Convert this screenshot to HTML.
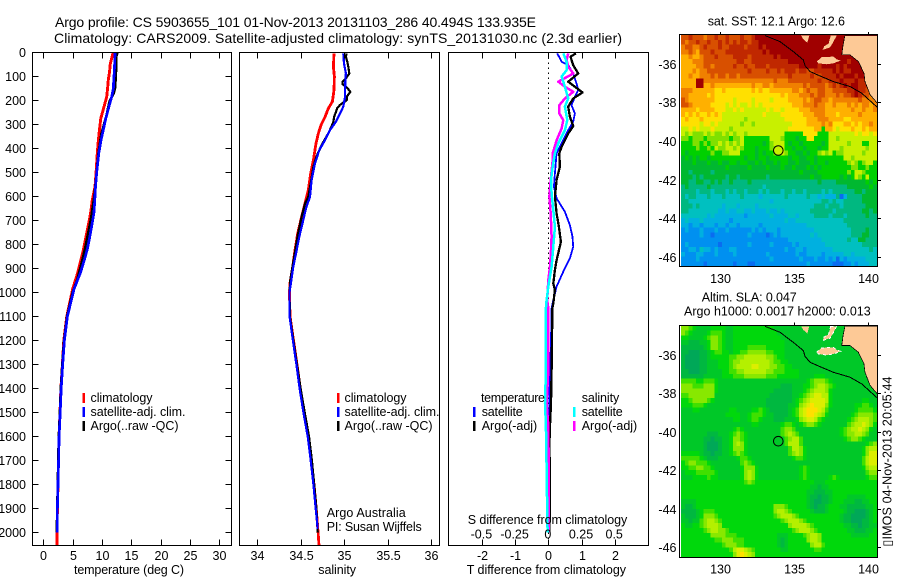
<!DOCTYPE html>
<html><head><meta charset="utf-8"><title>Argo profile</title>
<style>
html,body{margin:0;padding:0;background:#fff;width:900px;height:580px;overflow:hidden}
svg{display:block}
text{font-family:"Liberation Sans","DejaVu Sans",sans-serif;font-size:12.5px;fill:#000}
</style></head>
<body>
<svg id="chart" width="900" height="580" viewBox="0 0 900 580" xmlns="http://www.w3.org/2000/svg">
<rect width="900" height="580" fill="#fff"/>
<text x="55" y="27" style="font-size:14px" textLength="481" lengthAdjust="spacing">Argo profile: CS 5903655_101 01-Nov-2013 20131103_286 40.494S 133.935E</text>
<text x="54" y="43" style="font-size:14px" textLength="568" lengthAdjust="spacing">Climatology: CARS2009. Satellite-adjusted climatology: synTS_20131030.nc (2.3d earlier)</text>

<g id="panelT"></g>
<g id="panelS"></g>
<g id="panelD"></g>
<g id="mapA"></g>
<g id="mapB"></g>

<g>
<rect x="82.5" y="393" width="2.5" height="10" fill="#f00"/>
<rect x="82.5" y="407" width="2.5" height="10" fill="#00f"/>
<rect x="82.5" y="421" width="2.5" height="10" fill="#000"/>
<text x="90.5" y="402" textLength="62" lengthAdjust="spacing">climatology</text>
<text x="90.5" y="416" textLength="95" lengthAdjust="spacing">satellite-adj. clim.</text>
<text x="90.5" y="430" textLength="88" lengthAdjust="spacing">Argo(..raw -QC)</text>
</g>
<g>
<rect x="337" y="393" width="2.5" height="10" fill="#f00"/>
<rect x="337" y="407" width="2.5" height="10" fill="#00f"/>
<rect x="337" y="421" width="2.5" height="10" fill="#000"/>
<text x="344.5" y="402" textLength="62" lengthAdjust="spacing">climatology</text>
<text x="344.5" y="416" textLength="95" lengthAdjust="spacing">satellite-adj. clim.</text>
<text x="344.5" y="430" textLength="88" lengthAdjust="spacing">Argo(..raw -QC)</text>
<text x="326.7" y="517" textLength="79" lengthAdjust="spacing">Argo Australia</text>
<text x="326.7" y="531" textLength="95" lengthAdjust="spacing">PI: Susan Wijffels</text>
</g>
<g>
<text x="481" y="402" textLength="64" lengthAdjust="spacing">temperature</text>
<text x="581.7" y="402" textLength="37.5" lengthAdjust="spacing">salinity</text>
<rect x="473" y="407" width="2.5" height="10" fill="#00f"/>
<rect x="473" y="421" width="2.5" height="10" fill="#000"/>
<rect x="573" y="407" width="2.5" height="10" fill="#0ff"/>
<rect x="573" y="421" width="2.5" height="10" fill="#f0f"/>
<text x="481.7" y="416" textLength="41" lengthAdjust="spacing">satellite</text>
<text x="481.7" y="430" textLength="55.5" lengthAdjust="spacing">Argo(-adj)</text>
<text x="581.7" y="416" textLength="41" lengthAdjust="spacing">satellite</text>
<text x="581.7" y="430" textLength="55.5" lengthAdjust="spacing">Argo(-adj)</text>
<text x="467.7" y="524" textLength="159.6" lengthAdjust="spacing">S difference from climatology</text>
</g>

<text x="74" y="574" textLength="110" lengthAdjust="spacing">temperature (deg C)</text>
<text x="318.3" y="574" textLength="37.7" lengthAdjust="spacing">salinity</text>
<text x="466.7" y="574" textLength="159.3" lengthAdjust="spacing">T difference from climatology</text>

<text x="707.7" y="25.5" textLength="137.3" lengthAdjust="spacing">sat. SST: 12.1 Argo: 12.6</text>
<text x="701.7" y="301.5" textLength="95" lengthAdjust="spacing">Altim. SLA: 0.047</text>
<text x="684" y="315.5" textLength="186.7" lengthAdjust="spacing">Argo h1000: 0.0017 h2000: 0.013</text>
<text x="891.5" y="546.5" transform="rotate(-90 891.5 546.5)" textLength="170" lengthAdjust="spacing">▯IMOS 04-Nov-2013 20:05:44</text>
</svg>
<script>
// ---------- profile data ----------
const tempTicks=[0,5,10,15,20,25,30];
const salTicks=[34,34.5,35,35.5,36];
const salTickLabels=['34','34.5','35','35.5','36'];
const diffTicks=[-2,-1,0,1,2];
const sDiffTickLabels=['-0.5','-0.25','0','0.25','0.5'];
const depthTicks=[0,100,200,300,400,500,600,700,800,900,1000,1100,1200,1300,1400,1500,1600,1700,1800,1900,2000];

const climDepths=[0,20,50,80,115,150,185,225,275,325,365,420,500,560,615,670,710,770,820,860,920,985,1100,1200,1300,1400,1500,1600,1700,1800,1900,2000,2054];
const tempClim=[11.9,11.7,11.4,11.3,11.08,10.95,10.8,10.35,9.8,9.55,9.38,9.2,9.0,8.8,8.35,8.05,7.75,7.25,6.85,6.45,5.85,5.0,4.0,3.5,3.25,3.0,2.85,2.68,2.58,2.5,2.4,2.33,2.3];
const tempSat=[12.2,12.2,12.15,12.1,12.0,11.95,11.65,11.2,10.65,10.2,9.85,9.45,9.1,8.9,8.78,8.62,8.35,7.9,7.5,7.05,6.3,5.25,4.1,3.6,3.3,3.05,2.88,2.7,2.6,2.5,2.4,2.35];
const argoTempDepths=[0,4,18,50,100,150,170,205,260,340,420,500,600,700,760,820,880,950,1000,1100,1200,1300,1400,1500,1600,1700,1800,1900,2000];
const tempArgo=[12.6,12.6,12.4,12.4,12.35,12.2,12.0,11.3,10.8,9.9,9.4,9.1,8.7,8.1,7.6,7.1,6.5,5.75,5.0,4.05,3.55,3.25,3.0,2.85,2.65,2.55,2.48,2.38,2.32];

const salClimDepths=[4,60,101,157,205,233,268,303,337,379,449,504,574,629,685,754,824,893,962,1000,1100,1200,1300,1400,1500,1600,1700,1800,1900,2000,2054];
const salClim=[34.883,34.876,34.887,34.883,34.864,34.818,34.78,34.733,34.703,34.676,34.645,34.615,34.587,34.549,34.51,34.465,34.434,34.407,34.376,34.37,34.376,34.417,34.457,34.495,34.54,34.59,34.622,34.652,34.678,34.70,34.71];
const salSatDepths=[4,46,88,115,150,185,226,261,289,324,365,407,463,532,601,650,712,768,838,893,962,1000,1100,1200,1300,1400,1500,1600,1700,1800,1900,1985];
const salSat=[34.99,34.998,35.02,35.014,35.01,35.01,34.99,34.944,34.905,34.836,34.78,34.713,34.663,34.625,34.606,34.56,34.52,34.483,34.445,34.414,34.387,34.37,34.372,34.41,34.45,34.487,34.53,34.58,34.615,34.645,34.672,34.695];
const salArgoDepths=[4,18,39,60,88,104,122,132,146,164,185,199,219,233,268,289,307,337,386,435,476,546,601,629,685,754,838,893,949,1000,1100,1200,1300,1400,1500,1600,1700,1800,1900,2000];
const salArgo=[35.028,35.02,35.036,35.047,35.059,35.028,34.98,34.98,35.03,35.07,35.03,35.03,34.95,34.92,34.885,34.875,34.856,34.817,34.74,34.68,34.645,34.615,34.587,34.55,34.51,34.47,34.43,34.405,34.38,34.37,34.375,34.415,34.457,34.498,34.545,34.595,34.628,34.655,34.68,34.695];

const dTSatDepths=[4,39,53,88,129,157,185,220,254,289,324,379,421,504,560,608,664,720,768,810,858,914,976,1032,1067,1200,1400,1600,1800,2000];
const dTSat=[.27,.40,.60,.75,.85,.90,.80,.70,.80,.75,.60,.40,.25,.20,.17,.25,.50,.65,.73,.75,.65,.45,.25,.15,.10,.08,.04,.02,.01,0];
const dTArgoDepths=[4,18,53,88,122,143,167,192,226,268,307,338,393,421,476,532,601,671,727,789,866,907,963,990,1046,1067,1200,1324,1462,1553,1650,1733,1830,1906,2000];
const dTArgo=[.83,.67,.75,.90,.60,.80,1.03,.75,.60,.65,.75,.60,.40,.33,.35,.25,.20,.25,.32,.38,.25,.20,.15,.20,.15,.12,.11,.10,.08,.05,.03,.05,.05,.05,.03];
const dSArgoDepths=[4,32,60,88,122,143,164,192,220,254,282,317,365,421,449,532,601,671,768,824,893,949,1032,1067,1324,1462,1553,1733,1900,2000];
const dSArgo=[.15,.138,.15,.188,.075,.125,.188,.125,.083,.083,.113,.10,.063,.033,.033,.018,.008,.018,.025,.02,.013,0,-.008,0,0,-.013,0,.003,.003,.003];
const dSSatDepths=[4,39,74,101,143,192,226,282,324,379,421,476,532,588,657,727,810,893,976,1032,1067,1324,1462,1553,1733,1906,2000];
const dSSat=[.113,.138,.138,.10,.125,.15,.125,.143,.125,.075,.05,.033,.02,.025,.038,.05,.038,.025,0,-.013,-.018,-.018,-.025,-.018,-.013,-.008,-.005];

// ---------- map data ----------
const lonTicks=[130,135,140];
const latTicks=[-36,-38,-40,-42,-44,-46];
const floatLon=[133.935];
const floatLat=[-40.494];
const sstColors=['#0a6cf0','#0090f0','#00b0e0','#00c0c0','#00b880','#00b830','#00d000','#80e000','#c8f000','#ffe000','#ffb000','#f08000','#d85000','#c02800','#a00000'];
const slaColors=['#00a858','#00b840','#00c828','#00d80c','#40e000','#88e800','#b4f000','#dcee00','#ffe000'];
const sstLevels=[
[12,12,13,12,12,12,11,12,12,13,12,12,13,12,12,12,13,12,12,13,14,14,14,14,14,14,14,14,14,14,14,14,14,14,14,14,14,14,14,14,14,14,14,14,14,14,14,14,14,14,14,14,14],
[12,11,12,12,13,12,12,13,12,12,13,12,13,12,13,12,13,13,12,13,13,14,14,14,14,14,14,14,14,14,14,14,14,14,14,14,14,14,14,14,14,14,14,14,14,14,14,14,14,14,14,14,14],
[11,12,12,11,11,12,13,12,12,12,13,12,12,13,13,13,13,12,13,13,13,14,13,14,14,14,14,14,14,14,14,14,14,14,14,14,14,14,14,14,14,14,14,14,14,14,14,14,14,14,14,14,14],
[11,11,12,11,10,12,12,12,13,12,12,12,13,13,13,13,13,13,13,13,13,13,14,13,14,14,14,14,14,14,14,14,14,14,14,14,14,14,14,14,14,14,14,14,14,14,14,14,14,14,14,14,14],
[10,10,11,10,10,11,12,12,12,13,12,12,12,12,13,13,13,13,12,13,13,13,13,13,13,14,13,14,14,14,14,14,14,14,14,14,14,14,14,14,14,14,14,14,14,14,14,14,14,14,14,14,14],
[10,10,10,11,11,11,12,12,12,12,12,12,12,12,12,13,13,12,12,13,13,13,13,13,13,13,13,13,13,14,14,14,14,14,14,14,14,14,13,14,14,14,14,14,14,13,14,14,14,14,14,14,14],
[10,10,10,10,11,11,12,12,11,12,12,12,12,12,13,12,12,13,12,12,13,13,13,12,13,13,13,13,13,13,13,13,14,14,14,14,14,13,14,14,14,14,13,14,13,14,14,14,14,14,14,14,14],
[10,10,10,11,10,11,11,12,12,12,12,12,12,12,12,12,12,12,13,12,12,12,12,13,12,12,13,12,13,13,13,12,13,13,12,12,13,13,13,13,13,14,13,14,13,13,14,14,14,14,14,14,14],
[10,10,11,10,10,11,11,11,12,11,12,12,11,12,12,11,12,12,12,12,12,12,12,12,12,12,12,12,12,13,12,12,12,12,12,13,12,12,13,13,13,13,14,13,14,14,14,13,14,14,14,14,14],
[10,10,10,10,14,14,11,11,11,11,11,11,11,11,11,11,11,11,11,11,11,11,11,11,11,12,11,11,11,12,12,12,12,12,12,12,12,13,12,12,13,13,13,14,13,13,13,14,13,13,13,14,14],
[10,10,10,10,14,14,10,10,11,10,10,10,10,10,10,10,10,10,10,11,10,10,11,11,10,11,11,11,11,11,11,11,11,12,11,12,12,12,12,11,12,13,12,13,14,13,14,14,13,13,13,13,13],
[11,11,11,10,10,10,10,10,10,9,9,10,9,9,9,9,9,9,9,10,9,10,9,9,10,10,10,10,10,10,11,11,10,11,12,11,11,12,12,11,11,12,12,12,12,13,13,14,13,13,12,12,12],
[11,11,10,10,10,10,10,9,10,9,9,9,9,9,9,9,9,9,9,9,9,9,9,9,9,9,9,10,9,10,10,10,11,11,11,12,11,12,12,11,11,11,12,11,12,12,13,14,13,12,12,11,11],
[12,11,10,10,10,10,10,10,10,9,9,9,9,9,8,9,9,9,9,8,9,9,9,9,8,9,9,9,9,10,10,10,10,11,10,11,12,12,11,11,10,11,11,11,11,11,11,11,12,11,11,11,11],
[12,12,11,10,10,10,10,10,9,9,9,9,8,9,8,9,8,8,9,8,9,8,9,9,9,9,9,9,9,9,10,10,10,11,11,11,12,11,11,10,10,11,10,10,10,11,10,11,10,11,11,10,11],
[10,10,10,10,9,10,10,10,10,9,9,9,8,8,9,8,9,8,8,8,8,8,8,9,8,9,9,8,9,9,9,9,10,10,10,11,11,11,11,10,10,10,10,10,10,10,11,10,10,11,10,10,11],
[10,9,10,9,10,9,9,10,9,10,9,8,8,8,8,8,8,8,8,8,8,8,9,8,8,8,8,9,9,9,9,9,9,10,10,10,11,11,11,10,10,10,9,10,10,10,10,10,11,10,10,10,10],
[9,10,9,9,9,10,9,9,9,9,9,8,8,8,8,8,8,7,8,8,8,8,8,8,8,8,8,8,9,9,9,9,9,9,10,10,10,11,11,11,10,10,10,10,9,9,10,10,10,10,10,10,10],
[9,9,9,9,9,8,9,9,8,9,8,8,8,8,8,8,7,8,8,7,8,8,8,8,8,8,8,8,8,8,9,9,9,9,10,10,10,10,11,10,11,9,9,9,10,10,9,10,9,10,10,11,10],
[8,8,9,8,9,8,8,8,9,8,8,8,8,7,8,8,8,8,8,8,8,8,8,8,8,8,8,8,8,9,9,9,9,9,9,9,10,10,6,10,10,9,8,9,9,9,10,9,9,10,9,10,10],
[8,7,8,7,7,7,8,7,8,7,7,8,7,8,7,8,8,7,8,8,8,8,8,8,8,8,8,8,6,6,6,6,6,9,9,9,9,6,6,6,8,8,8,8,8,8,8,9,8,9,9,8,9],
[7,7,6,7,7,7,6,7,7,7,7,7,7,6,7,7,8,6,6,6,6,6,6,6,8,8,8,7,6,6,6,5,6,6,9,9,6,6,6,6,8,8,7,8,8,8,8,8,8,8,8,8,8],
[6,6,6,7,7,6,7,6,7,7,8,7,8,7,8,7,8,6,6,6,6,6,5,6,7,8,8,8,6,5,6,6,5,6,6,6,6,6,5,6,8,8,8,8,8,7,8,8,8,6,6,8,8],
[6,6,6,6,7,6,6,7,6,8,7,7,8,8,7,8,7,6,6,6,5,6,6,6,7,7,8,8,6,6,5,6,6,5,6,6,6,5,6,6,8,8,8,7,8,8,8,8,8,8,7,8,8],
[6,5,6,6,6,6,6,6,7,6,6,7,7,8,8,8,6,6,6,6,5,6,5,6,6,7,8,8,7,6,6,5,5,6,5,6,6,7,8,7,8,6,7,7,8,8,8,8,8,7,8,8,8],
[5,6,5,6,5,6,6,5,6,6,6,6,6,6,6,6,6,5,6,6,5,6,6,5,6,6,6,6,6,5,6,6,5,5,6,6,5,6,6,6,6,6,6,6,8,8,7,8,8,8,8,8,8],
[5,5,5,6,5,5,5,6,5,5,6,5,5,6,6,5,6,6,5,5,6,5,6,5,5,6,5,6,6,5,5,6,5,5,5,6,5,6,6,5,6,6,6,6,6,7,8,7,6,7,8,8,6],
[5,5,5,5,5,5,5,5,5,5,5,5,6,5,5,5,5,5,6,5,5,5,5,6,5,5,5,6,5,5,6,5,5,5,6,5,6,5,6,6,6,6,6,6,6,6,7,7,6,6,7,6,6],
[5,5,4,5,5,5,5,5,4,5,5,5,5,5,5,5,5,5,5,5,5,5,5,5,5,5,5,5,5,5,5,5,6,5,5,5,5,6,6,6,6,6,6,6,6,7,6,8,8,7,6,6,6],
[5,5,5,4,5,4,5,5,5,5,5,5,4,5,5,4,5,5,5,5,5,5,5,4,5,5,5,5,5,5,5,5,5,5,5,6,5,5,6,6,6,6,6,5,6,5,6,8,7,6,8,6,6],
[5,5,4,4,5,5,4,4,5,4,5,4,4,5,4,4,4,4,5,4,4,4,4,4,4,4,4,4,4,4,4,4,4,4,4,4,4,5,4,4,4,4,5,5,5,5,5,5,5,5,6,5,6],
[4,5,4,4,4,4,4,5,4,4,4,4,4,4,4,4,4,4,4,4,4,4,3,4,4,4,4,4,4,4,4,4,4,4,4,4,4,4,4,4,4,4,4,4,4,5,5,5,5,5,5,6,5],
[4,4,4,4,3,4,4,4,3,4,4,4,3,4,3,4,4,3,4,4,4,3,4,3,4,4,4,3,4,4,3,4,4,3,4,4,4,4,3,4,3,4,4,4,4,4,4,5,5,4,5,5,5],
[4,3,4,4,3,3,3,4,3,3,3,4,3,3,3,3,4,3,3,3,3,2,3,3,3,3,3,3,4,3,3,3,3,3,4,3,3,2,3,2,2,2,4,0,2,4,4,4,4,5,5,5,5],
[4,4,3,3,3,3,3,3,3,3,3,3,3,3,3,3,3,3,3,3,3,3,3,3,2,3,3,3,3,3,3,3,3,3,3,3,3,3,4,4,3,4,3,3,4,4,4,4,4,5,5,5,5],
[4,4,4,3,4,3,3,3,3,3,3,2,3,3,3,2,3,3,3,3,2,3,3,3,3,3,3,3,3,3,3,3,3,3,3,3,4,4,4,3,4,4,4,3,4,4,4,4,4,4,5,5,5],
[4,4,3,3,3,3,3,3,3,3,2,2,3,2,2,3,3,2,2,3,2,2,2,3,2,2,3,2,3,3,3,3,3,3,3,4,4,4,4,4,4,3,4,4,4,4,4,4,4,5,5,4,5],
[3,3,3,3,3,3,3,2,3,2,2,2,2,2,2,2,2,1,2,2,2,2,2,2,3,2,2,2,2,3,3,2,3,3,3,3,4,4,4,4,3,4,4,4,3,4,4,4,4,4,5,4,4],
[2,3,2,2,2,3,2,2,2,2,2,2,2,1,2,2,2,2,2,2,2,2,2,2,2,2,2,2,3,2,2,3,3,3,3,3,3,3,3,3,3,3,3,3,4,4,4,4,4,4,4,4,4],
[2,2,1,2,2,1,2,2,2,1,2,2,1,2,2,1,2,2,2,2,2,1,2,2,2,2,2,2,2,2,2,2,2,2,3,3,3,3,3,3,3,3,3,3,3,4,4,4,4,4,4,4,4],
[1,2,1,1,1,2,1,1,1,2,1,1,2,1,1,1,1,1,1,2,1,2,1,2,2,2,1,2,2,2,2,2,2,2,2,2,3,3,3,3,3,3,3,3,3,3,4,4,4,4,5,4,4],
[1,1,1,1,1,2,1,1,0,1,1,1,1,1,1,1,1,1,2,1,1,1,1,0,1,2,1,2,2,2,2,2,2,2,2,3,2,3,3,3,3,3,3,3,3,3,4,4,4,5,5,4,4],
[1,1,1,1,1,1,1,1,1,1,1,1,1,1,1,1,1,1,1,1,1,1,1,1,1,1,1,1,1,2,2,2,2,2,2,2,2,2,3,3,3,3,3,3,3,4,3,3,5,5,4,4,4],
[1,2,1,1,1,1,1,1,1,1,0,1,1,1,1,1,1,1,2,1,1,1,1,1,2,1,1,1,1,1,2,1,2,2,2,2,2,2,2,3,3,3,3,3,3,3,3,3,3,4,4,4,4],
[1,1,2,2,1,3,2,2,1,2,1,1,1,2,2,1,1,1,1,1,1,1,1,1,1,1,1,1,2,1,1,2,2,1,2,2,2,2,2,2,2,3,3,3,3,3,3,3,3,3,3,4,3],
[2,1,1,1,2,2,1,1,1,2,1,1,1,1,2,1,1,1,1,1,1,1,1,2,1,1,1,1,1,1,1,2,1,1,2,2,2,2,1,2,2,2,2,2,3,3,2,3,3,3,3,3,3],
[1,1,1,1,2,1,1,1,1,1,1,1,1,1,1,1,1,1,1,1,1,1,1,1,2,1,1,1,1,1,1,1,2,1,1,1,2,1,1,2,1,2,0,2,1,2,2,2,2,2,3,3,3],
[1,1,1,1,1,1,0,1,1,1,1,1,1,1,0,1,1,1,0,0,1,1,1,1,1,1,1,1,1,1,1,1,1,1,2,1,1,1,1,1,1,0,0,0,1,1,2,1,2,2,2,3,3]
];
const slaLevels=[
[5,5,4,3,2,2,2,2,3,3,3,3,2,2,3,3,3,3,3,3,3,3,3,3,3,2,2,2,2,2,2,2,2,2,2,2,2,2,2,2,2,2,2,2,2,2,2,2,2,2,2,2,2],
[5,4,3,2,2,2,2,3,4,4,4,3,2,2,3,3,3,3,3,3,3,3,3,3,3,3,2,2,2,2,2,2,2,2,2,2,2,2,2,2,2,2,2,2,2,2,2,2,2,2,2,2,2],
[3,3,2,2,2,2,3,4,5,5,4,3,2,2,3,3,3,3,3,3,3,3,3,3,3,3,3,2,2,2,2,2,2,2,2,2,2,2,2,2,2,2,2,2,2,2,2,2,2,2,2,2,2],
[2,2,1,1,1,2,2,3,5,5,4,3,2,2,3,3,3,3,3,3,3,3,3,3,3,3,3,3,2,2,2,2,2,2,2,2,2,2,2,2,2,2,2,2,2,2,2,2,2,2,2,2,2],
[1,1,1,1,1,1,2,3,5,5,4,3,2,2,3,3,3,3,4,4,4,4,4,3,3,3,3,3,2,2,2,2,2,2,2,2,2,2,2,2,2,2,2,2,2,2,2,2,2,2,2,2,2],
[1,1,0,0,0,1,1,2,3,4,4,3,3,2,3,3,4,4,5,5,5,5,5,4,4,3,3,3,2,2,2,2,2,2,2,2,2,2,2,2,2,2,2,2,2,2,2,2,2,2,2,2,2],
[1,0,0,0,0,1,1,2,3,3,3,3,3,4,4,5,5,6,6,6,6,6,6,5,5,4,3,3,2,2,2,2,2,2,2,2,2,2,2,2,2,2,2,2,2,2,2,2,2,2,2,2,2],
[1,0,0,0,0,1,1,2,2,2,3,3,3,4,5,5,6,6,6,6,6,6,6,6,5,4,4,3,3,2,2,2,2,2,2,2,2,2,2,2,2,2,2,2,2,2,2,2,2,2,2,2,2],
[1,0,0,0,0,1,1,2,2,2,3,3,3,4,5,6,6,6,6,7,7,6,6,6,5,5,4,4,3,3,2,2,2,2,2,2,2,2,2,2,2,2,2,2,2,2,2,2,2,2,2,2,2],
[1,1,0,0,0,1,1,2,2,2,2,3,3,4,4,5,5,6,6,6,6,6,6,5,5,4,4,4,3,3,3,3,2,2,2,2,2,2,2,2,2,2,2,2,2,2,2,2,2,2,2,2,2],
[1,1,1,1,1,1,2,2,2,2,2,3,3,3,4,4,4,5,5,5,5,5,5,4,4,4,3,3,3,3,3,3,2,2,2,2,3,3,3,2,2,2,2,2,2,2,2,2,2,2,2,2,2],
[4,4,4,4,3,3,4,4,4,3,2,2,2,2,2,2,2,2,2,2,2,2,2,2,2,2,2,2,2,2,2,2,2,2,3,4,5,5,5,4,3,2,2,2,2,2,2,2,2,2,2,2,2],
[5,5,5,4,4,4,5,5,5,3,2,2,2,2,2,2,2,2,2,2,2,2,2,2,2,2,2,1,1,1,2,2,2,3,3,4,5,6,6,5,4,3,2,2,2,2,2,2,2,2,2,2,2],
[5,5,5,5,5,5,5,5,5,3,2,2,2,2,2,2,2,2,2,2,2,2,2,2,2,1,1,1,1,1,2,2,2,3,4,5,6,6,6,5,3,2,2,2,2,2,2,2,2,2,2,2,2],
[4,4,5,5,5,5,5,5,5,2,2,2,2,2,2,2,2,2,2,2,2,2,2,2,1,1,1,1,1,1,2,2,3,4,5,6,7,7,6,6,3,2,2,2,2,2,2,2,2,2,2,2,2],
[3,3,4,5,5,5,5,4,3,2,2,2,2,2,2,2,2,2,2,2,2,2,2,1,1,1,1,1,1,1,2,3,4,5,6,7,7,7,7,6,3,2,2,2,2,2,2,2,2,3,3,2,2],
[3,3,3,4,4,4,3,2,2,2,2,2,2,2,2,2,2,2,2,2,2,2,2,1,1,1,1,1,1,2,2,3,5,6,7,8,7,7,7,5,3,2,2,2,2,2,2,3,3,4,4,3,2],
[2,2,2,3,3,2,2,2,2,2,2,2,2,3,3,2,2,2,2,3,3,4,3,2,1,1,1,1,1,2,3,4,6,7,8,8,8,7,6,4,2,2,2,2,2,2,2,3,4,4,4,4,3],
[2,2,2,2,2,2,2,2,2,2,2,2,3,3,3,3,2,2,3,4,4,4,3,2,2,1,1,1,1,2,3,4,6,7,8,8,7,6,5,3,2,2,2,2,2,2,3,4,5,5,5,5,4],
[2,2,2,2,2,2,2,2,2,2,2,2,2,2,3,3,2,2,3,4,4,3,2,2,2,1,1,1,2,2,2,3,5,6,7,7,6,4,3,2,2,2,2,2,2,3,4,5,6,6,6,5,4],
[2,2,2,2,2,2,2,2,2,2,2,2,2,2,2,2,2,2,2,3,3,2,2,2,2,2,2,3,4,4,3,2,3,4,5,5,4,3,2,2,2,2,2,2,2,4,5,6,6,7,6,5,3],
[2,2,2,2,2,2,2,2,2,2,2,2,2,2,3,4,3,2,2,2,2,2,2,2,2,2,2,4,5,5,4,2,2,2,2,2,2,2,2,2,2,2,2,3,4,5,6,6,7,6,5,3,2],
[2,2,2,2,2,2,2,1,1,1,2,2,2,3,4,5,4,3,2,2,2,2,2,2,2,2,2,4,5,6,5,4,2,2,2,2,2,2,2,2,2,2,2,3,4,5,5,6,6,5,4,2,2],
[2,2,2,2,2,2,1,1,0,1,1,2,2,3,5,5,4,3,2,2,2,2,2,2,2,2,2,2,4,5,6,6,4,2,2,2,2,2,2,2,2,2,2,2,3,4,5,5,4,3,2,2,2],
[2,2,2,2,2,2,1,0,0,0,1,2,2,3,5,6,5,3,2,2,2,2,2,2,2,2,2,2,4,6,6,6,4,2,2,2,2,2,2,2,2,2,2,2,2,2,2,2,2,2,3,4,5],
[2,2,2,2,2,2,1,0,0,0,1,2,2,3,5,5,5,3,2,2,2,2,2,2,2,2,2,2,2,4,6,6,5,3,2,2,2,2,2,2,2,2,2,2,2,2,2,2,2,3,5,6,6],
[3,3,3,3,3,2,1,1,0,1,1,2,2,3,4,5,4,3,2,2,2,2,2,2,2,2,2,2,2,4,5,6,5,3,2,2,2,2,2,2,2,2,2,2,2,2,2,2,2,3,5,7,7],
[4,4,4,4,4,3,2,1,1,1,2,2,2,2,2,3,4,4,3,2,2,2,2,2,2,2,2,2,2,2,3,4,4,3,2,2,2,2,2,2,2,2,2,2,2,2,2,2,2,4,6,7,7],
[3,4,5,5,4,4,4,3,2,2,2,2,2,2,2,2,4,5,4,3,2,2,2,2,2,2,2,2,2,2,2,2,2,2,2,2,2,2,2,2,2,2,2,2,2,2,2,2,2,4,6,7,7],
[3,3,4,4,5,5,4,4,3,2,2,2,2,2,2,2,3,5,5,5,3,2,2,2,2,2,2,2,2,2,2,2,3,4,3,2,2,2,2,2,2,2,2,2,2,2,2,2,2,3,5,6,6],
[2,3,3,3,4,4,4,4,4,3,2,2,2,2,2,2,3,5,6,5,3,2,2,2,2,2,2,2,2,2,2,2,3,4,3,2,2,2,2,2,2,2,2,2,2,2,2,2,2,2,4,5,5],
[2,2,2,3,3,3,3,4,3,3,2,2,2,2,2,2,3,5,6,5,3,2,2,2,2,2,2,2,2,2,2,2,3,4,3,2,2,2,2,2,3,4,3,2,2,2,2,2,2,2,3,4,4],
[3,3,3,3,3,3,3,3,3,3,3,3,3,3,3,3,3,4,5,4,3,3,3,3,3,3,3,3,3,3,3,3,3,3,3,3,2,2,2,3,3,3,3,3,3,3,3,3,3,3,3,3,3],
[3,3,3,3,3,3,3,3,3,3,3,3,3,3,3,3,3,3,3,3,3,3,3,3,3,3,3,3,3,3,3,3,3,3,3,2,2,1,2,2,3,3,3,3,3,3,3,3,3,3,3,3,3],
[3,3,3,3,3,3,3,3,3,3,3,3,3,3,3,3,3,3,3,3,3,3,3,3,3,3,3,3,3,3,3,3,3,3,2,2,1,1,1,2,2,3,3,3,3,3,3,3,3,3,3,3,3],
[3,3,3,3,3,3,3,3,3,3,3,3,3,3,3,3,3,3,3,3,3,3,3,3,3,3,3,3,3,3,3,3,3,3,2,1,1,0,1,1,2,3,3,3,3,2,2,2,2,2,3,3,3],
[2,2,2,2,3,3,3,3,3,3,3,3,3,3,3,3,3,3,3,3,3,3,3,3,3,3,3,3,3,3,3,3,3,3,2,1,0,0,1,1,2,3,3,3,2,2,2,1,1,2,2,3,3],
[2,1,1,2,3,3,3,3,3,3,3,3,3,3,3,3,3,3,3,3,3,3,3,3,3,5,5,5,4,3,3,3,3,3,2,1,0,1,1,2,3,3,3,2,2,1,1,1,1,1,2,2,3],
[1,1,1,1,2,3,4,4,4,3,3,3,3,3,3,3,3,3,3,3,3,3,3,3,3,5,6,6,5,4,3,3,3,3,3,2,1,1,1,2,3,3,3,3,2,1,1,0,0,0,1,2,3],
[2,1,1,1,2,3,5,5,5,4,3,3,3,3,3,3,3,3,3,3,3,3,3,3,3,4,5,6,6,6,5,4,3,3,3,3,3,3,3,3,3,3,3,2,1,1,0,0,0,0,1,2,3],
[2,2,1,2,2,4,5,6,6,5,4,3,3,3,3,3,3,3,3,3,3,3,3,3,3,3,3,4,5,6,6,6,5,4,3,3,3,3,3,3,3,3,3,2,1,1,0,0,0,1,1,2,3],
[3,2,2,3,3,4,5,6,6,6,5,3,3,3,3,3,3,3,3,3,3,3,3,3,3,3,3,3,3,5,6,6,6,6,5,4,3,3,3,3,3,3,3,3,2,2,1,1,0,1,1,2,2],
[3,3,3,3,3,3,4,5,6,6,5,5,4,3,3,3,3,3,3,3,3,3,3,3,3,3,3,3,3,3,4,5,6,6,6,5,4,3,3,3,3,3,3,3,3,2,2,1,1,1,2,2,3],
[3,3,3,3,3,3,3,3,5,5,5,5,4,4,4,3,3,3,3,3,3,3,3,3,3,3,2,2,2,3,3,3,3,4,5,6,6,5,3,3,3,3,3,3,3,3,2,2,2,2,2,3,3],
[3,3,3,3,3,3,3,3,3,4,4,5,5,5,4,4,4,3,3,3,3,3,3,3,3,3,2,1,2,3,3,3,3,3,5,6,6,5,3,3,3,3,3,3,3,3,3,3,3,3,3,3,3],
[3,3,3,3,3,3,3,3,3,3,3,4,5,5,5,4,4,3,3,3,3,3,3,3,3,3,2,1,2,3,3,3,3,3,3,5,6,6,4,3,3,3,3,3,3,3,3,3,3,3,3,3,3],
[3,3,3,3,3,3,3,3,3,3,3,3,3,4,6,7,7,6,5,4,3,3,3,3,3,3,3,2,2,3,3,3,3,3,3,3,4,4,3,3,3,3,3,3,3,3,3,3,3,3,3,3,3],
[3,3,3,3,3,3,3,3,3,3,3,3,3,3,5,7,8,7,6,5,3,3,3,3,3,3,3,3,3,3,3,3,3,3,3,3,3,3,3,3,3,3,3,3,3,3,3,3,3,3,3,3,3]
];
const landLons=[138.45,138.33,138.24,138.8,139.37,139.75,139.82,140.16,140.65,140.65];
const landLats=[-34.53,-35.02,-35.53,-35.53,-35.88,-36.48,-36.92,-37.6,-38.04,-34.53];
const kangarooLons=[136.54,136.88,137.67,137.9,138.17,137.67,137.22,136.65];
const kangarooLats=[-35.88,-35.65,-35.62,-35.76,-35.83,-35.97,-36.02,-35.97];
const yorkeLons=[137.49,137.9,137.6,137.44,136.95,137.05,137.35];
const yorkeLats=[-34.53,-34.53,-34.95,-35.15,-35.27,-35.08,-34.95];
const eyreLons=[135.48,136.04,135.9,135.63];
const eyreLats=[-34.53,-34.53,-34.9,-34.72];
const contourLons=[133.03,134.05,134.95,135.63,135.75,136.09,136.76,137.67,138.8,139.59,140.65];
const contourLats=[-34.53,-34.84,-35.36,-35.79,-36.1,-36.4,-36.62,-36.92,-37.17,-37.52,-38.25];

// ---------- helpers ----------
const NS='http://www.w3.org/2000/svg';
function mk(parent,tag,name){
  const el=document.createElementNS(NS,tag);
  
  
  parent.appendChild(el);
  return el;
}
function txt(parent,x,y,s,anchor,name){
  const t=mk(parent,'text',name);
  t.setAttribute('x',x);t.setAttribute('y',y);t.setAttribute('text-anchor',anchor);
  t.textContent=s;
  return t;
}
function seg(parent,x1,y1,x2,y2,name){
  const l=mk(parent,'line',name);
  l.setAttribute('x1',x1);l.setAttribute('y1',y1);l.setAttribute('x2',x2);l.setAttribute('y2',y2);
  l.setAttribute('stroke','#000');l.setAttribute('stroke-width',1);l.setAttribute('shape-rendering','crispEdges');
  return l;
}
const TOP=52.5,BOT=545.5;
const depthY=d=>52.4+0.24*d;
const tempX=t=>43.3+5.87*t;
const salX=s=>257.3+86.9*(s-34);
const diffX=d=>548.3+33.2*d;
const sDiffX=s=>diffX(s*4);
function frame(g,l,r,name){
  const f=mk(g,'rect',name);
  f.setAttribute('x',l);f.setAttribute('y',TOP);f.setAttribute('width',r-l);f.setAttribute('height',BOT-TOP);
  f.setAttribute('fill','none');f.setAttribute('stroke','#000');f.setAttribute('shape-rendering','crispEdges');
}
function profile(g,depths,vals,xf,color,w,name){
  const n=Math.min(depths.length,vals.length);
  const p=mk(g,'polyline',name);
  let pts='';
  for(let i=0;i<n;i++)pts+=xf(vals[i]).toFixed(1)+','+depthY(depths[i]).toFixed(1)+' ';
  p.setAttribute('points',pts);p.setAttribute('fill','none');p.setAttribute('stroke',color);
  p.setAttribute('stroke-width',w);p.setAttribute('shape-rendering','crispEdges');p.setAttribute('stroke-linejoin','round');
}
function xAxis(g,ticks,labels,xf){
  ticks.forEach((v,i)=>{
    const x=Math.round(xf(v))+0.5;
    seg(g,x,TOP,x,TOP+6,'x-tick-top');
    seg(g,x,BOT-6,x,BOT,'x-tick-bottom');
    txt(g,x,560,labels[i],'middle','x-tick-label');
  });
}

// ---------- temperature panel ----------
const gT=document.getElementById('panelT');
profile(gT,climDepths,tempClim,tempX,'#f00',2.9,'temperature-climatology-line');
profile(gT,argoTempDepths,tempArgo,tempX,'#000',2.7,'temperature-argo-line');
profile(gT,climDepths,tempSat,tempX,'#00f',2.7,'temperature-satellite-line');
frame(gT,32.5,231.5,'temperature-plot-frame');
xAxis(gT,tempTicks,tempTicks.map(String),tempX);
depthTicks.forEach(d=>{
  const y=Math.round(depthY(d))+0.5;
  seg(gT,32.5,y,38.5,y,'depth-tick-left');
  seg(gT,225.5,y,231.5,y,'depth-tick-right');
  txt(gT,26,y+4.5,String(d),'end','depth-tick-label');
});

// ---------- salinity panel ----------
const gS=document.getElementById('panelS');
profile(gS,salClimDepths,salClim,salX,'#f00',2.8,'salinity-climatology-line');
profile(gS,salArgoDepths,salArgo,salX,'#000',2.2,'salinity-argo-line');
profile(gS,salSatDepths,salSat,salX,'#00f',2.2,'salinity-satellite-line');
frame(gS,239.5,439.5,'salinity-plot-frame');
xAxis(gS,salTicks,salTickLabels,salX);

// ---------- difference panel ----------
const gD=document.getElementById('panelD');
const zero=mk(gD,'line','zero-difference-line');
zero.setAttribute('x1',548.5);zero.setAttribute('x2',548.5);zero.setAttribute('y1',TOP);zero.setAttribute('y2',BOT);
zero.setAttribute('stroke','#000');zero.setAttribute('stroke-dasharray','1.5 3.5');zero.setAttribute('shape-rendering','crispEdges');
profile(gD,dTSatDepths,dTSat,diffX,'#00f',1.8,'t-difference-satellite-line');
profile(gD,dTArgoDepths,dTArgo,diffX,'#000',2.3,'t-difference-argo-line');
profile(gD,dSArgoDepths,dSArgo,sDiffX,'#f0f',2.5,'s-difference-argo-line');
profile(gD,dSSatDepths,dSSat,sDiffX,'#0ff',2.5,'s-difference-satellite-line');
frame(gD,448.5,648.5,'difference-plot-frame');
xAxis(gD,diffTicks,diffTicks.map(String),diffX);
diffTicks.forEach((v,i)=>{
  txt(gD,diffX(v)-0.5,538.5,sDiffTickLabels[i],'middle','s-difference-tick-label');
});

// ---------- maps ----------
function drawMap(g,top,levels,colors,labelY,bg,circleFill,islandStroke,name){
  const lonX=lon=>720.3+14.74*(lon-130);
  const latY=lat=>top+19.27*(-34.5-lat);
  const bgRect=mk(g,'rect',name+'-background');
  bgRect.setAttribute('x',681);bgRect.setAttribute('y',top);bgRect.setAttribute('width',196);bgRect.setAttribute('height',231.5);bgRect.setAttribute('fill',bg);
  levels.forEach((row,r)=>{
    row.forEach((v,c)=>{
      const cell=mk(g,'rect',name+'-cell');
      const x0=lonX(127.35+0.25*c),x1=Math.min(lonX(127.35+0.25*(c+1)),877);
      const y0=latY(-34.5-0.25*r),y1=latY(-34.5-0.25*(r+1));
      cell.setAttribute('x',x0.toFixed(2));cell.setAttribute('y',y0.toFixed(2));
      cell.setAttribute('width',(x1-x0+0.4).toFixed(2));cell.setAttribute('height',(y1-y0+0.4).toFixed(2));
      cell.setAttribute('fill',colors[v]);cell.setAttribute('shape-rendering','crispEdges');
    });
  });
  const pts=(lons,lats)=>lons.map((l,i)=>lonX(l).toFixed(1)+','+latY(lats[i]).toFixed(1)).join(' ');
  const land=mk(g,'polygon',name+'-mainland');
  land.setAttribute('points',pts(landLons,landLats));land.setAttribute('fill','#fdc996');land.setAttribute('stroke','#000');land.setAttribute('stroke-width',0.7);land.setAttribute('shape-rendering','crispEdges');
  [[kangarooLons,kangarooLats,'kangaroo-island'],[yorkeLons,yorkeLats,'yorke-peninsula'],[eyreLons,eyreLats,'eyre-peninsula']].forEach(a=>{
    const p=mk(g,'polygon',name+'-'+a[2]);
    p.setAttribute('points',pts(a[0],a[1]));p.setAttribute('fill','#fdc996');p.setAttribute('shape-rendering','crispEdges');
    if(islandStroke&&a[2]!=='eyre-peninsula'){p.setAttribute('stroke',islandStroke);p.setAttribute('stroke-dasharray','3 3');}
  });
  const cont=mk(g,'polyline',name+'-shelf-contour');
  cont.setAttribute('points',pts(contourLons,contourLats));cont.setAttribute('fill','none');cont.setAttribute('stroke','#000');cont.setAttribute('stroke-width',1);cont.setAttribute('shape-rendering','crispEdges');
  const circ=mk(g,'circle',name+'-float-marker');
  circ.setAttribute('cx',lonX(floatLon[0]));circ.setAttribute('cy',latY(floatLat[0]));circ.setAttribute('r',4.8);
  circ.setAttribute('fill',circleFill);circ.setAttribute('stroke','#000');circ.setAttribute('stroke-width',1);
  const f=mk(g,'rect',name+'-frame');
  f.setAttribute('x',679.5);f.setAttribute('y',Math.round(top)-0.5);f.setAttribute('width',198);f.setAttribute('height',232);
  f.setAttribute('fill','none');f.setAttribute('stroke','#000');f.setAttribute('shape-rendering','crispEdges');
  lonTicks.forEach(l=>{
    const x=Math.round(lonX(l))+0.5;
    seg(g,x,top-3,x,top,name+'-lon-tick');
    txt(g,x,labelY,String(l),'middle',name+'-lon-label');
  });
  latTicks.forEach(l=>{
    const y=Math.round(latY(l))+0.5;
    seg(g,877.5,y,881,y,name+'-lat-tick');
    txt(g,676.5,y+4.5,String(l),'end',name+'-lat-label');
  });
}
drawMap(document.getElementById('mapA'),35,sstLevels,sstColors,283,'#00c0c0','#c8f000','','sst-map');
drawMap(document.getElementById('mapB'),325.7,slaLevels,slaColors,573.5,'#00c828','none','#fff','sla-map');
</script>
</body></html>
